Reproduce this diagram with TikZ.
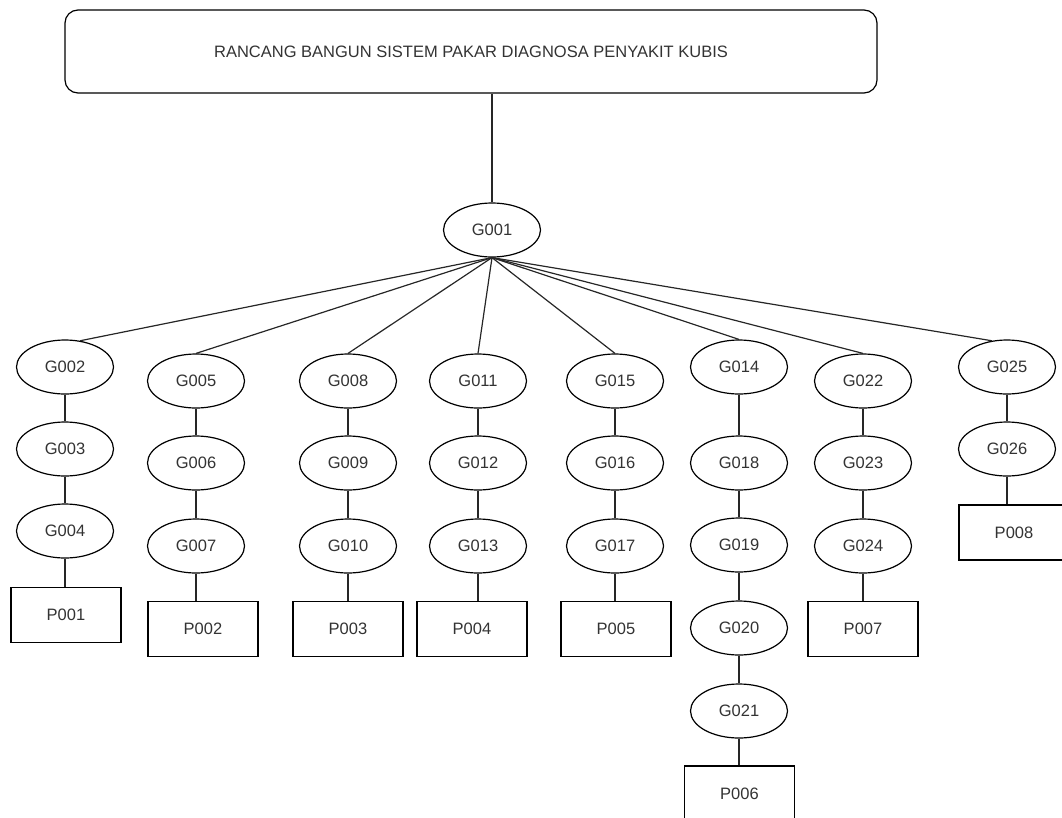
\documentclass[tikz,border=0pt]{standalone}
\usepackage{fontspec}
\setmainfont{Liberation Sans}
\usetikzlibrary{shapes.geometric}
\begin{document}
\begin{tikzpicture}[x=1pt,y=-1pt,
  every node/.style={font=\fontsize{16.5}{19}\selectfont, text=black!80},
  gejala/.style={ellipse, draw, line width=1.2pt, minimum width=97pt, minimum height=54pt, inner sep=0pt},
  penyakit/.style={rectangle, draw, line width=1.2pt, minimum width=110pt, minimum height=55pt, inner sep=0pt},
  judul/.style={rectangle, draw, line width=1.2pt, rounded corners=13pt, minimum width=812pt, minimum height=83pt, inner sep=0pt},
  link/.style={line width=1.2pt, black!85}]
\useasboundingbox (0,0) rectangle (1062,817);

% title
\node[judul] (title) at (471,51.5) {RANCANG BANGUN SISTEM PAKAR DIAGNOSA PENYAKIT KUBIS};

% root symptom
\node[gejala] (g001) at (492,230) {G001};

% column 1
\node[gejala] (g002) at (65,367) {G002};
\node[gejala] (g003) at (65,449) {G003};
\node[gejala] (g004) at (65,531) {G004};
\node[penyakit] (p001) at (66,615) {P001};

% column 2
\node[gejala] (g005) at (196,381) {G005};
\node[gejala] (g006) at (196,463) {G006};
\node[gejala] (g007) at (196,546) {G007};
\node[penyakit] (p002) at (203,629) {P002};

% column 3
\node[gejala] (g008) at (348,381) {G008};
\node[gejala] (g009) at (348,463) {G009};
\node[gejala] (g010) at (348,546) {G010};
\node[penyakit] (p003) at (348,629) {P003};

% column 4
\node[gejala] (g011) at (478,381) {G011};
\node[gejala] (g012) at (478,463) {G012};
\node[gejala] (g013) at (478,546) {G013};
\node[penyakit] (p004) at (472,629) {P004};

% column 5
\node[gejala] (g015) at (615,381) {G015};
\node[gejala] (g016) at (615,463) {G016};
\node[gejala] (g017) at (615,546) {G017};
\node[penyakit] (p005) at (616,629) {P005};

% column 6
\node[gejala] (g014) at (739,367) {G014};
\node[gejala] (g018) at (739,463) {G018};
\node[gejala] (g019) at (739,545) {G019};
\node[gejala] (g020) at (739,628) {G020};
\node[gejala] (g021) at (739,711) {G021};
\node[penyakit] (p006) at (739.5,793.5) {P006};

% column 7
\node[gejala] (g022) at (863,381) {G022};
\node[gejala] (g023) at (863,463) {G023};
\node[gejala] (g024) at (863,546) {G024};
\node[penyakit] (p007) at (863,629) {P007};

% column 8
\node[gejala] (g025) at (1007,367) {G025};
\node[gejala] (g026) at (1007,449) {G026};
\node[penyakit] (p008) at (1014,532.5) {P008};

% title to root
\draw[link] (g001.north) -- (g001.north |- title.south);

% root to first symptom of each branch
\draw[link] (g001.south) -- (g002.60);
\draw[link] (g001.south) -- (g005.north);
\draw[link] (g001.south) -- (g008.north);
\draw[link] (g001.south) -- (g011.north);
\draw[link] (g001.south) -- (g015.north);
\draw[link] (g001.south) -- (g014.north);
\draw[link] (g001.south) -- (g022.north);
\draw[link] (g001.south) -- (g025.120);

% chains down each branch
\draw[link] (g002) -- (g003);
\draw[link] (g003) -- (g004);
\draw[link] (g004.south) -- (g004.south |- p001.north);

\draw[link] (g005) -- (g006);
\draw[link] (g006) -- (g007);
\draw[link] (g007.south) -- (g007.south |- p002.north);

\draw[link] (g008) -- (g009);
\draw[link] (g009) -- (g010);
\draw[link] (g010.south) -- (g010.south |- p003.north);

\draw[link] (g011) -- (g012);
\draw[link] (g012) -- (g013);
\draw[link] (g013.south) -- (g013.south |- p004.north);

\draw[link] (g015) -- (g016);
\draw[link] (g016) -- (g017);
\draw[link] (g017.south) -- (g017.south |- p005.north);

\draw[link] (g014) -- (g018);
\draw[link] (g018) -- (g019);
\draw[link] (g019) -- (g020);
\draw[link] (g020) -- (g021);
\draw[link] (g021.south) -- (g021.south |- p006.north);

\draw[link] (g022) -- (g023);
\draw[link] (g023) -- (g024);
\draw[link] (g024.south) -- (g024.south |- p007.north);

\draw[link] (g025) -- (g026);
\draw[link] (g026.south) -- (g026.south |- p008.north);
\end{tikzpicture}
\end{document}
